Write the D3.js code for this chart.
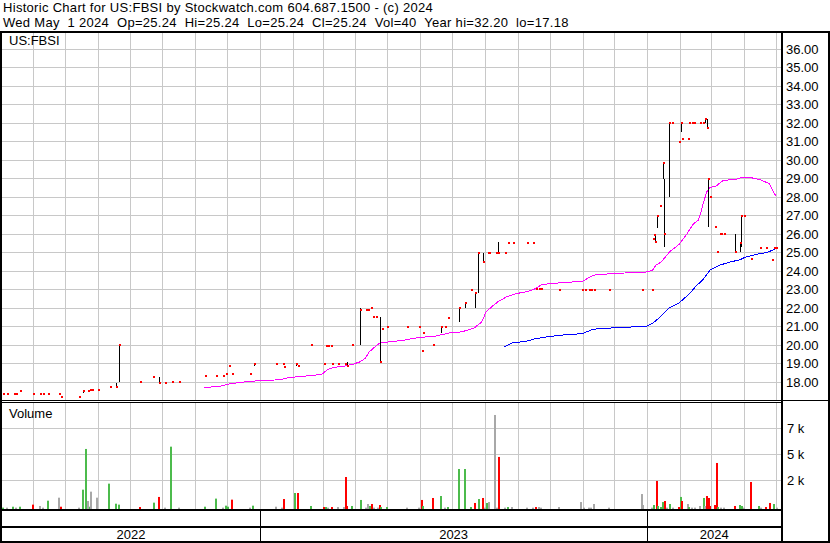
<!DOCTYPE html>
<html>
<head>
<meta charset="utf-8">
<script src="https://cdn.jsdelivr.net/npm/d3@7"></script>
<style>
body { margin: 0; background: #fff; }
svg text { font-family: Arial, "Liberation Sans", sans-serif; font-size: 13px; fill: #000; white-space: pre; }
svg text.head { letter-spacing: 0.3px; }
</style>
</head>
<body>
<div id="chart"></div>
<script>

var headerLines = [
    "Historic Chart for US:FBSI by Stockwatch.com 604.687.1500 - (c) 2024",
    "Wed May  1 2024  Op=25.24  Hi=25.24  Lo=25.24  Cl=25.24  Vol=40  Year hi=32.20  lo=17.18"
];
var symbol = "US:FBSI";
var priceTicks = [18, 19, 20, 21, 22, 23, 24, 25, 26, 27, 28, 29, 30, 31, 32, 33, 34, 35, 36];
var volTicks = [2800, 5300, 7800];
var volTickLabels = ["2 k", "5 k", "7 k"];
var yearLabels = ["2022", "2023", "2024"];

// date, close, high, low  (high/low left out when the day had one price)
var prices = [
    ["2022-05-04", 17.30], ["2022-05-08", 17.30], ["2022-05-14", 17.35], ["2022-05-16", 17.35],
    ["2022-05-20", 17.49], ["2022-06-01", 17.35], ["2022-06-08", 17.35], ["2022-06-11", 17.35],
    ["2022-06-15", 17.35], ["2022-06-26", 17.35], ["2022-06-28", 17.17], ["2022-07-15", 17.17],
    ["2022-07-18", 17.50, 17.50, 17.40], ["2022-07-23", 17.50], ["2022-07-25", 17.55], ["2022-07-27", 17.55],
    ["2022-08-01", 17.55], ["2022-08-13", 17.71, 17.71, 17.65], ["2022-08-18", 17.71, 17.90, 17.71],
    ["2022-08-21", 20.00, 20.00, 18.00], ["2022-09-10", 18.00], ["2022-09-22", 18.25],
    ["2022-09-28", 17.90, 18.25, 17.90], ["2022-10-04", 17.90], ["2022-10-10", 18.00], ["2022-10-17", 18.00],
    ["2022-11-10", 18.30], ["2022-11-21", 18.30], ["2022-11-27", 18.30], ["2022-11-30", 18.38],
    ["2022-12-03", 18.85], ["2022-12-06", 18.41], ["2022-12-23", 18.41], ["2022-12-26", 18.93, 18.93, 18.85],
    ["2023-01-16", 18.93], ["2023-01-23", 18.93], ["2023-01-24", 18.77], ["2023-02-04", 18.93, 18.93, 18.82],
    ["2023-02-06", 18.82], ["2023-02-18", 20.00], ["2023-03-02", 18.93], ["2023-03-04", 19.93],
    ["2023-03-06", 19.93], ["2023-03-09", 19.93], ["2023-03-10", 18.93], ["2023-03-16", 18.93],
    ["2023-03-22", 18.93], ["2023-03-24", 18.82, 19.06, 18.82], ["2023-03-29", 20.00, 20.00, 19.93],
    ["2023-04-05", 21.86, 22.00, 19.98], ["2023-04-11", 21.87], ["2023-04-13", 21.87], ["2023-04-16", 21.97],
    ["2023-04-18", 21.49], ["2023-04-20", 21.49], ["2023-04-24", 19.06, 21.50, 19.06], ["2023-04-26", 20.83],
    ["2023-05-01", 20.95], ["2023-05-20", 20.95], ["2023-05-31", 20.95], ["2023-06-03", 19.65],
    ["2023-06-04", 20.63], ["2023-06-13", 19.98], ["2023-06-21", 20.95, 20.95, 20.63], ["2023-06-24", 20.95],
    ["2023-06-27", 21.44], ["2023-07-08", 22.00, 22.00, 21.22], ["2023-07-13", 22.25, 22.25, 22.00],
    ["2023-07-19", 22.95], ["2023-07-23", 22.76, 22.76, 22.00], ["2023-07-25", 24.97, 24.97, 22.76],
    ["2023-07-30", 24.46, 24.97, 24.46], ["2023-08-04", 24.95], ["2023-08-05", 24.95], ["2023-08-11", 24.95],
    ["2023-08-13", 24.95, 25.55, 24.95], ["2023-08-20", 24.95], ["2023-08-23", 25.49], ["2023-08-27", 25.49],
    ["2023-09-10", 25.49], ["2023-09-15", 25.49], ["2023-09-18", 23.01], ["2023-09-21", 23.01],
    ["2023-09-23", 23.01], ["2023-10-10", 22.95], ["2023-10-31", 22.95, 22.98, 22.95], ["2023-11-03", 22.95],
    ["2023-11-07", 22.95], ["2023-11-09", 22.95], ["2023-11-12", 22.95], ["2023-11-26", 22.95],
    ["2023-12-27", 22.95, 22.98, 22.95],
    ["2024-01-05", 22.95], ["2024-01-06", 25.73], ["2024-01-07", 25.91], ["2024-01-08", 25.55, 25.98, 25.55],
    ["2024-01-10", 26.95, 26.95, 26.30], ["2024-01-13", 27.49], ["2024-01-16", 29.84, 29.84, 28.97],
    ["2024-01-17", 25.96, 28.97, 25.27], ["2024-01-21", 32.00, 32.00, 27.98], ["2024-01-24", 32.00],
    ["2024-01-31", 30.95], ["2024-02-02", 32.00, 32.00, 31.50], ["2024-02-03", 31.10], ["2024-02-08", 31.10],
    ["2024-02-09", 32.00], ["2024-02-12", 32.00], ["2024-02-14", 32.00], ["2024-02-20", 32.00],
    ["2024-02-22", 32.00], ["2024-02-24", 32.22, 32.22, 32.00], ["2024-02-26", 31.71, 32.22, 31.73],
    ["2024-02-27", 28.97, 28.97, 26.36], ["2024-02-29", 27.98], ["2024-03-05", 26.36], ["2024-03-07", 25.00],
    ["2024-03-09", 25.98], ["2024-03-10", 25.98], ["2024-03-13", 25.98], ["2024-03-24", 25.00, 26.00, 25.00],
    ["2024-03-28", 25.50, 25.50, 25.00], ["2024-03-29", 26.95, 26.95, 25.27], ["2024-04-01", 26.95],
    ["2024-04-08", 24.60], ["2024-04-16", 25.22], ["2024-04-22", 25.22], ["2024-04-27", 24.56],
    ["2024-04-29", 25.22], ["2024-05-01", 25.24]
];

// date, volume, u = up day, d = down day, n = unchanged
var volumes = [
    ["2022-05-03", 130, "u"], ["2022-05-07", 130, "n"], ["2022-05-12", 220, "u"], ["2022-05-15", 130, "n"],
    ["2022-05-19", 220, "u"], ["2022-05-31", 420, "d"], ["2022-06-07", 290, "n"], ["2022-06-10", 130, "n"],
    ["2022-06-14", 800, "u"], ["2022-06-25", 1090, "n"], ["2022-06-27", 220, "d"], ["2022-07-14", 130, "n"],
    ["2022-07-17", 1860, "u"], ["2022-07-20", 5780, "u"], ["2022-07-22", 770, "n"], ["2022-07-24", 220, "u"],
    ["2022-07-25", 1670, "n"], ["2022-07-31", 1090, "n"], ["2022-08-11", 2440, "u"], ["2022-08-17", 510, "u"],
    ["2022-08-20", 420, "u"], ["2022-09-09", 190, "d"], ["2022-09-22", 610, "u"], ["2022-09-27", 1160, "d"],
    ["2022-10-03", 130, "n"], ["2022-10-08", 6000, "u"], ["2022-10-16", 130, "n"], ["2022-11-09", 220, "u"],
    ["2022-11-20", 1000, "u"], ["2022-11-26", 130, "n"], ["2022-11-29", 320, "u"], ["2022-12-01", 220, "u"],
    ["2022-12-05", 900, "d"], ["2022-12-22", 130, "n"], ["2022-12-25", 320, "u"],
    ["2023-01-15", 220, "n"], ["2023-01-21", 130, "n"], ["2023-01-23", 960, "d"], ["2023-02-02", 1540, "u"],
    ["2023-02-05", 1540, "d"], ["2023-02-17", 290, "u"], ["2023-03-01", 190, "d"], ["2023-03-03", 190, "u"],
    ["2023-03-05", 130, "n"], ["2023-03-09", 190, "d"], ["2023-03-15", 190, "n"], ["2023-03-20", 190, "n"],
    ["2023-03-22", 3080, "d"], ["2023-03-23", 290, "d"], ["2023-03-28", 290, "u"], ["2023-04-05", 870, "u"],
    ["2023-04-10", 130, "n"], ["2023-04-12", 480, "n"], ["2023-04-14", 290, "u"], ["2023-04-16", 480, "d"],
    ["2023-04-18", 130, "n"], ["2023-04-21", 130, "n"], ["2023-04-23", 385, "d"], ["2023-04-24", 190, "u"],
    ["2023-04-30", 190, "u"], ["2023-05-19", 130, "n"], ["2023-05-30", 130, "n"], ["2023-06-02", 870, "d"],
    ["2023-06-03", 290, "u"], ["2023-06-12", 1060, "d"], ["2023-06-20", 1250, "u"], ["2023-06-23", 130, "n"],
    ["2023-06-26", 190, "u"], ["2023-07-07", 3850, "u"], ["2023-07-12", 3850, "u"], ["2023-07-18", 190, "u"],
    ["2023-07-22", 580, "d"], ["2023-07-25", 960, "u"], ["2023-07-29", 1060, "d"], ["2023-07-31", 130, "n"],
    ["2023-08-02", 580, "u"], ["2023-08-04", 670, "n"], ["2023-08-10", 9050, "n"], ["2023-08-11", 130, "n"],
    ["2023-08-13", 5010, "d"], ["2023-08-19", 130, "n"], ["2023-08-22", 190, "u"], ["2023-08-26", 190, "n"],
    ["2023-09-09", 130, "n"], ["2023-09-14", 130, "n"], ["2023-09-17", 190, "d"], ["2023-09-20", 190, "n"],
    ["2023-09-22", 130, "n"], ["2023-10-09", 190, "n"], ["2023-10-30", 670, "n"], ["2023-11-01", 130, "n"],
    ["2023-11-06", 130, "n"], ["2023-11-08", 130, "n"], ["2023-11-11", 480, "n"], ["2023-11-25", 130, "n"],
    ["2023-12-26", 1440, "n"], ["2023-12-27", 385, "n"],
    ["2024-01-04", 130, "n"], ["2024-01-06", 385, "u"], ["2024-01-09", 2700, "d"], ["2024-01-10", 290, "u"],
    ["2024-01-13", 190, "u"], ["2024-01-15", 670, "u"], ["2024-01-17", 770, "d"], ["2024-01-19", 130, "n"],
    ["2024-01-21", 480, "u"], ["2024-01-24", 130, "n"], ["2024-01-30", 190, "d"], ["2024-02-01", 1160, "u"],
    ["2024-02-02", 770, "d"], ["2024-02-07", 480, "n"], ["2024-02-08", 190, "u"], ["2024-02-11", 130, "n"],
    ["2024-02-14", 130, "n"], ["2024-02-19", 290, "n"], ["2024-02-22", 1060, "u"], ["2024-02-23", 290, "n"],
    ["2024-02-25", 1250, "d"], ["2024-02-27", 1060, "d"], ["2024-02-28", 290, "d"], ["2024-03-04", 385, "d"],
    ["2024-03-06", 4430, "d"], ["2024-03-07", 190, "u"], ["2024-03-09", 130, "n"], ["2024-03-12", 130, "n"],
    ["2024-03-23", 290, "d"], ["2024-03-27", 385, "u"], ["2024-03-29", 290, "u"], ["2024-03-31", 130, "n"],
    ["2024-04-07", 2600, "d"], ["2024-04-14", 290, "u"], ["2024-04-16", 130, "n"], ["2024-04-21", 190, "d"],
    ["2024-04-25", 580, "d"], ["2024-04-28", 480, "u"], ["2024-05-01", 130, "n"]
];

// moving averages (pink = short, blue = long)
var maShort = [
    ["2022-11-09", 17.68], ["2022-11-24", 17.73], ["2022-12-03", 17.87], ["2022-12-15", 17.96],
    ["2022-12-24", 18.02], ["2023-01-06", 18.05], ["2023-01-20", 18.10], ["2023-01-29", 18.22],
    ["2023-02-12", 18.29], ["2023-02-28", 18.38], ["2023-03-06", 18.65], ["2023-03-11", 18.76],
    ["2023-03-22", 18.84], ["2023-03-30", 18.94], ["2023-04-05", 19.06], ["2023-04-10", 19.24],
    ["2023-04-14", 19.60], ["2023-04-21", 19.96], ["2023-04-25", 20.11], ["2023-05-03", 20.14],
    ["2023-05-16", 20.23], ["2023-05-31", 20.38], ["2023-06-16", 20.46], ["2023-06-30", 20.65],
    ["2023-07-10", 20.68], ["2023-07-22", 20.90], ["2023-07-29", 21.22], ["2023-08-02", 21.76],
    ["2023-08-08", 22.07], ["2023-08-13", 22.30], ["2023-08-21", 22.57], ["2023-08-31", 22.76],
    ["2023-09-10", 22.86], ["2023-09-18", 23.03], ["2023-09-23", 23.22], ["2023-10-02", 23.30],
    ["2023-11-01", 23.42], ["2023-11-11", 23.75], ["2023-11-30", 23.84], ["2023-12-31", 23.92],
    ["2024-01-06", 24.02], ["2024-01-09", 24.29], ["2024-01-14", 24.46], ["2024-01-22", 25.01],
    ["2024-01-31", 25.42], ["2024-02-07", 25.96], ["2024-02-13", 26.50], ["2024-02-18", 26.72],
    ["2024-02-21", 27.26], ["2024-02-23", 27.71], ["2024-02-26", 28.25], ["2024-02-29", 28.49],
    ["2024-03-06", 28.58], ["2024-03-12", 28.85], ["2024-03-19", 28.92], ["2024-03-25", 28.94],
    ["2024-03-31", 29.06], ["2024-04-07", 29.03], ["2024-04-16", 28.92], ["2024-04-25", 28.70],
    ["2024-04-28", 28.34], ["2024-05-01", 28.04]
];
var maLong = [
    ["2023-08-19", 19.87], ["2023-08-27", 20.09], ["2023-09-09", 20.18], ["2023-09-18", 20.32],
    ["2023-09-28", 20.41], ["2023-10-10", 20.50], ["2023-11-01", 20.59], ["2023-11-11", 20.83],
    ["2023-11-30", 20.90], ["2023-12-31", 20.99], ["2024-01-06", 21.14], ["2024-01-13", 21.49],
    ["2024-01-22", 22.00], ["2024-01-31", 22.25], ["2024-02-10", 22.76], ["2024-02-16", 23.17],
    ["2024-02-22", 23.48], ["2024-02-29", 24.02], ["2024-03-09", 24.29], ["2024-03-19", 24.46],
    ["2024-03-28", 24.58], ["2024-04-03", 24.74], ["2024-04-16", 24.92], ["2024-04-22", 24.96],
    ["2024-05-01", 25.18]
];

var volColors = {"u": "#4cbb4c", "d": "#ff0000", "n": "#a8a8a8"};
var gridColor = "#c8c8c8";

var parseDate = d3.timeParse("%Y-%m-%d");

var svg = d3.select("#chart").append("svg")
    .attr("width", 830)
    .attr("height", 543);

svg.append("rect").attr("width", 830).attr("height", 543).attr("fill", "#fff");

var x = d3.scaleTime()
    .domain([new Date(2022, 4, 3), new Date(2024, 4, 5)])
    .range([2, 780]);
var yP = d3.scaleLinear().domain([17, 36.9]).range([400, 32]);
var yV = d3.scaleLinear().domain([0, 10300]).range([509, 402]);

var months = d3.timeMonth.range(new Date(2022, 5, 1), x.domain()[1]);
var yearStarts = d3.timeYear.range(new Date(2022, 5, 1), x.domain()[1]);

var px = function(d) { return Math.round(x(d)) + 0.5; };

// header
svg.selectAll("text.head").data(headerLines).enter()
    .append("text")
    .attr("class", "head")
    .attr("x", 3)
    .attr("y", function(d, i) { return 12 + i * 15; })
    .text(function(d) { return d; });

// grid
var grid = svg.append("g").attr("stroke", gridColor).attr("stroke-width", 1);
grid.selectAll("line.vp").data(months).enter().append("line")
    .attr("x1", px).attr("x2", px)
    .attr("y1", 33).attr("y2", 400);
grid.selectAll("line.vv").data(months).enter().append("line")
    .attr("x1", px).attr("x2", px)
    .attr("y1", 403).attr("y2", 509);
grid.selectAll("line.hp").data(priceTicks).enter().append("line")
    .attr("x1", 2).attr("x2", 781)
    .attr("y1", function(d) { return Math.round(yP(d)) + 0.5; })
    .attr("y2", function(d) { return Math.round(yP(d)) + 0.5; });
grid.selectAll("line.hv").data(volTicks).enter().append("line")
    .attr("x1", 2).attr("x2", 781)
    .attr("y1", function(d) { return Math.round(yV(d)) + 0.5; })
    .attr("y2", function(d) { return Math.round(yV(d)) + 0.5; });

// moving averages
var maLine = d3.line()
    .x(function(d) { return x(parseDate(d[0])); })
    .y(function(d) { return yP(d[1]); });

svg.append("path").datum(maShort)
    .attr("d", maLine)
    .attr("fill", "none")
    .attr("stroke", "#ff00ff")
    .attr("stroke-width", 1)
    .attr("shape-rendering", "crispEdges");
svg.append("path").datum(maLong)
    .attr("d", maLine)
    .attr("fill", "none")
    .attr("stroke", "#0000ff")
    .attr("stroke-width", 1)
    .attr("shape-rendering", "crispEdges");

// price bars
var bars = svg.append("g");
bars.selectAll("line").data(prices.filter(function(d) { return d.length > 2 && d[2] > d[3]; }))
    .enter().append("line")
    .attr("x1", function(d) { return px(parseDate(d[0])); })
    .attr("x2", function(d) { return px(parseDate(d[0])); })
    .attr("y1", function(d) { return Math.round(yP(d[2])); })
    .attr("y2", function(d) { return Math.round(yP(d[3])); })
    .attr("stroke", "#000")
    .attr("stroke-width", 1);
bars.selectAll("rect").data(prices).enter().append("rect")
    .attr("x", function(d) { return Math.round(x(parseDate(d[0]))); })
    .attr("y", function(d) { return Math.round(yP(d[1])) - 1; })
    .attr("width", 2)
    .attr("height", 2)
    .attr("fill", "#ff0000");

// volume bars
svg.append("g").selectAll("rect").data(volumes).enter().append("rect")
    .attr("x", function(d) { return Math.round(x(parseDate(d[0]))); })
    .attr("y", function(d) { return yV(d[1]); })
    .attr("width", 2)
    .attr("height", function(d) { return yV(0) - yV(d[1]); })
    .attr("fill", function(d) { return volColors[d[2]]; });

// frame
var frame = svg.append("g").attr("fill", "#000");
frame.append("rect").attr("x", 0).attr("y", 31).attr("width", 830).attr("height", 2);
frame.append("rect").attr("x", 0).attr("y", 31).attr("width", 2).attr("height", 512);
frame.append("rect").attr("x", 781).attr("y", 31).attr("width", 2).attr("height", 512);
frame.append("rect").attr("x", 828).attr("y", 31).attr("width", 2).attr("height", 512);
frame.append("rect").attr("x", 0).attr("y", 400).attr("width", 830).attr("height", 1);
frame.append("rect").attr("x", 0).attr("y", 402).attr("width", 783).attr("height", 1);
frame.append("rect").attr("x", 0).attr("y", 509).attr("width", 783).attr("height", 2);
frame.append("rect").attr("x", 0).attr("y", 526).attr("width", 783).attr("height", 2);
frame.append("rect").attr("x", 0).attr("y", 541).attr("width", 830).attr("height", 2);
frame.selectAll("rect.yr").data(yearStarts).enter().append("rect")
    .attr("x", function(d) { return Math.round(x(d)); })
    .attr("y", 511)
    .attr("width", 1)
    .attr("height", 30);

// labels
svg.append("text").attr("x", 9).attr("y", 45).text(symbol);
svg.append("text").attr("x", 9).attr("y", 418).text("Volume");

svg.selectAll("text.py").data(priceTicks).enter().append("text")
    .attr("class", "py")
    .attr("x", 786)
    .attr("y", function(d) { return Math.round(yP(d)) + 5; })
    .text(function(d) { return d.toFixed(2); });

svg.selectAll("text.vy").data(volTicks).enter().append("text")
    .attr("class", "vy")
    .attr("x", 787)
    .attr("y", function(d) { return Math.round(yV(d)) + 5; })
    .text(function(d, i) { return volTickLabels[i]; });

var yearBounds = [x.domain()[0]].concat(yearStarts, [x.invert(781)]);
svg.selectAll("text.yr").data(yearLabels).enter().append("text")
    .attr("class", "yr")
    .attr("x", function(d, i) { return (x(yearBounds[i]) + x(yearBounds[i + 1])) / 2; })
    .attr("y", 539)
    .attr("text-anchor", "middle")
    .text(function(d) { return d; });

</script>
</body>
</html>
